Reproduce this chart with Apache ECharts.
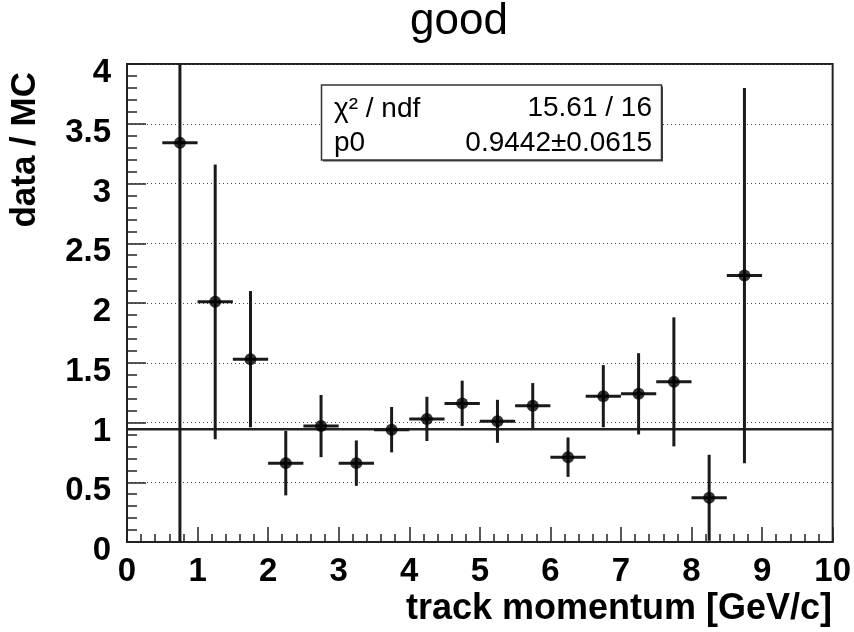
<!DOCTYPE html>
<html>
<head>
<meta charset="utf-8">
<script src="https://cdn.jsdelivr.net/npm/echarts@6/dist/echarts.min.js"></script>
<style>
html,body{margin:0;padding:0;background:#fff;}
#chart{width:854px;height:632px;}
</style>
</head>
<body>
<div id="chart"></div>
<script>
// ---- data ----
var binCenters = [0.75, 1.25, 1.75, 2.25, 2.75, 3.25, 3.75, 4.25, 4.75, 5.25, 5.75, 6.25, 6.75, 7.25, 7.75, 8.25, 8.75];
var ratioValues = [3.34, 2.01, 1.53, 0.66, 0.97, 0.66, 0.94, 1.03, 1.16, 1.01, 1.14, 0.71, 1.22, 1.24, 1.34, 0.37, 2.23];
var ratioErrors = [3.40, 1.15, 0.57, 0.27, 0.26, 0.19, 0.19, 0.185, 0.19, 0.18, 0.19, 0.165, 0.26, 0.34, 0.54, 0.36, 1.57];
var binHalfWidth = 0.25;
var fitP0 = 0.9442;
var fitRange = [0, 10];
var statsLabels = ['χ² / ndf', 'p0'];
var statsValues = ['15.61 / 16', '0.9442±0.0615'];
var xTicks = [0, 1, 2, 3, 4, 5, 6, 7, 8, 9, 10];
var yTicks = [0, 0.5, 1, 1.5, 2, 2.5, 3, 3.5, 4];

var FONT = '"Liberation Sans", Arial, Helvetica, sans-serif';
var chart = echarts.init(document.getElementById('chart'), null, {renderer: 'canvas'});

var points = binCenters.map(function (x, i) { return [x, ratioValues[i], ratioErrors[i]]; });
var Y_MIN = yTicks[0], Y_MAX = yTicks[yTicks.length - 1];

function clampY(v) { return Math.max(Y_MIN, Math.min(Y_MAX, v)); }

var option = {
  animation: false,
  backgroundColor: '#fff',
  title: {
    text: 'good',
    left: 459,
    textAlign: 'center',
    top: 0,
    padding: 0,
    textStyle: {fontFamily: FONT, fontSize: 44, fontWeight: 'normal', color: '#000'}
  },
  grid: {left: 127, top: 64, width: 706, height: 478, show: true, borderColor: '#222', borderWidth: 2, backgroundColor: 'transparent'},
  xAxis: {
    type: 'value', min: 0, max: 10, interval: 1,
    axisLine: {show: true, onZero: false, lineStyle: {color: '#222', width: 2}},
    axisTick: {show: true, inside: true, length: 15, lineStyle: {color: '#222', width: 1.5}},
    minorTick: {show: true, splitNumber: 5, length: 8, lineStyle: {color: '#222', width: 1.5}},
    splitLine: {show: false},
    axisLabel: {margin: 13, fontFamily: FONT, fontSize: 33, fontWeight: 'bold', color: '#000',
      formatter: function (v) { return xTicks.indexOf(v) >= 0 ? String(v) : ''; }}
  },
  yAxis: {
    type: 'value', min: 0, max: 4, interval: 0.5,
    axisLine: {show: true, onZero: false, lineStyle: {color: '#222', width: 2}},
    axisTick: {show: true, inside: true, length: 19, lineStyle: {color: '#222', width: 1.5}},
    minorTick: {show: true, splitNumber: 5, length: 10, lineStyle: {color: '#222', width: 1.5}},
    splitLine: {show: true, lineStyle: {color: '#444', width: 1, type: [1, 3]}},
    axisLabel: {margin: 16, fontFamily: FONT, fontSize: 33, fontWeight: 'bold', color: '#000',
      verticalAlign: 'top', lineHeight: 18,
      formatter: function (v) { return yTicks.indexOf(v) >= 0 ? String(v) : ''; }}
  },
  series: [
    {
      name: 'fit',
      type: 'line',
      data: [[fitRange[0], fitP0], [fitRange[1], fitP0]],
      symbol: 'none',
      lineStyle: {color: '#222', width: 2.5},
      z: 2
    },
    {
      name: 'errors',
      type: 'custom',
      data: points,
      renderItem: function (params, api) {
        var x = api.value(0), y = api.value(1), e = api.value(2);
        var pLo = api.coord([x, clampY(y - e)]);
        var pHi = api.coord([x, clampY(y + e)]);
        var pL = api.coord([x - binHalfWidth, y]);
        var pR = api.coord([x + binHalfWidth, y]);
        return {
          type: 'group',
          children: [
            {type: 'line', shape: {x1: pLo[0], y1: pLo[1], x2: pHi[0], y2: pHi[1]}, style: {stroke: '#1a1a1a', lineWidth: 3}},
            {type: 'line', shape: {x1: pL[0], y1: pL[1], x2: pR[0], y2: pR[1]}, style: {stroke: '#1a1a1a', lineWidth: 3}}
          ]
        };
      },
      encode: {x: 0, y: 1},
      z: 3
    },
    {
      name: 'data / MC',
      type: 'scatter',
      data: points.map(function (p) { return [p[0], p[1]]; }),
      symbol: 'circle',
      symbolSize: 12,
      itemStyle: {color: '#000'},
      z: 4
    }
  ],
  graphic: [
    {type: 'text', x: 25, y: 72, rotation: Math.PI / 2,
      style: {text: 'data / MC', fontFamily: FONT, fontSize: 35, fontWeight: 'bold', fill: '#000', align: 'right', verticalAlign: 'middle'}},
    {type: 'text', x: 832, y: 609,
      style: {text: 'track momentum [GeV/c]', fontFamily: FONT, fontSize: 36, fontWeight: 'bold', fill: '#000', align: 'right', verticalAlign: 'middle'}},
    {type: 'rect', shape: {x: 323, y: 86.5, width: 340, height: 75}, style: {fill: '#444'}, z: 10},
    {type: 'rect', shape: {x: 321.5, y: 85, width: 340, height: 75}, style: {fill: '#fff', stroke: '#333', lineWidth: 1.5}, z: 11},
    {type: 'text', x: 334, y: 109, z: 12, style: {text: statsLabels[0], fontFamily: FONT, fontSize: 28, fill: '#000', align: 'left', verticalAlign: 'middle'}},
    {type: 'text', x: 334, y: 143, z: 12, style: {text: statsLabels[1], fontFamily: FONT, fontSize: 28, fill: '#000', align: 'left', verticalAlign: 'middle'}},
    {type: 'text', x: 652, y: 108, z: 12, style: {text: statsValues[0], fontFamily: FONT, fontSize: 28, fill: '#000', align: 'right', verticalAlign: 'middle'}},
    {type: 'text', x: 652, y: 143, z: 12, style: {text: statsValues[1], fontFamily: FONT, fontSize: 28, fill: '#000', align: 'right', verticalAlign: 'middle'}}
  ]
};
chart.setOption(option);
</script>
</body>
</html>
